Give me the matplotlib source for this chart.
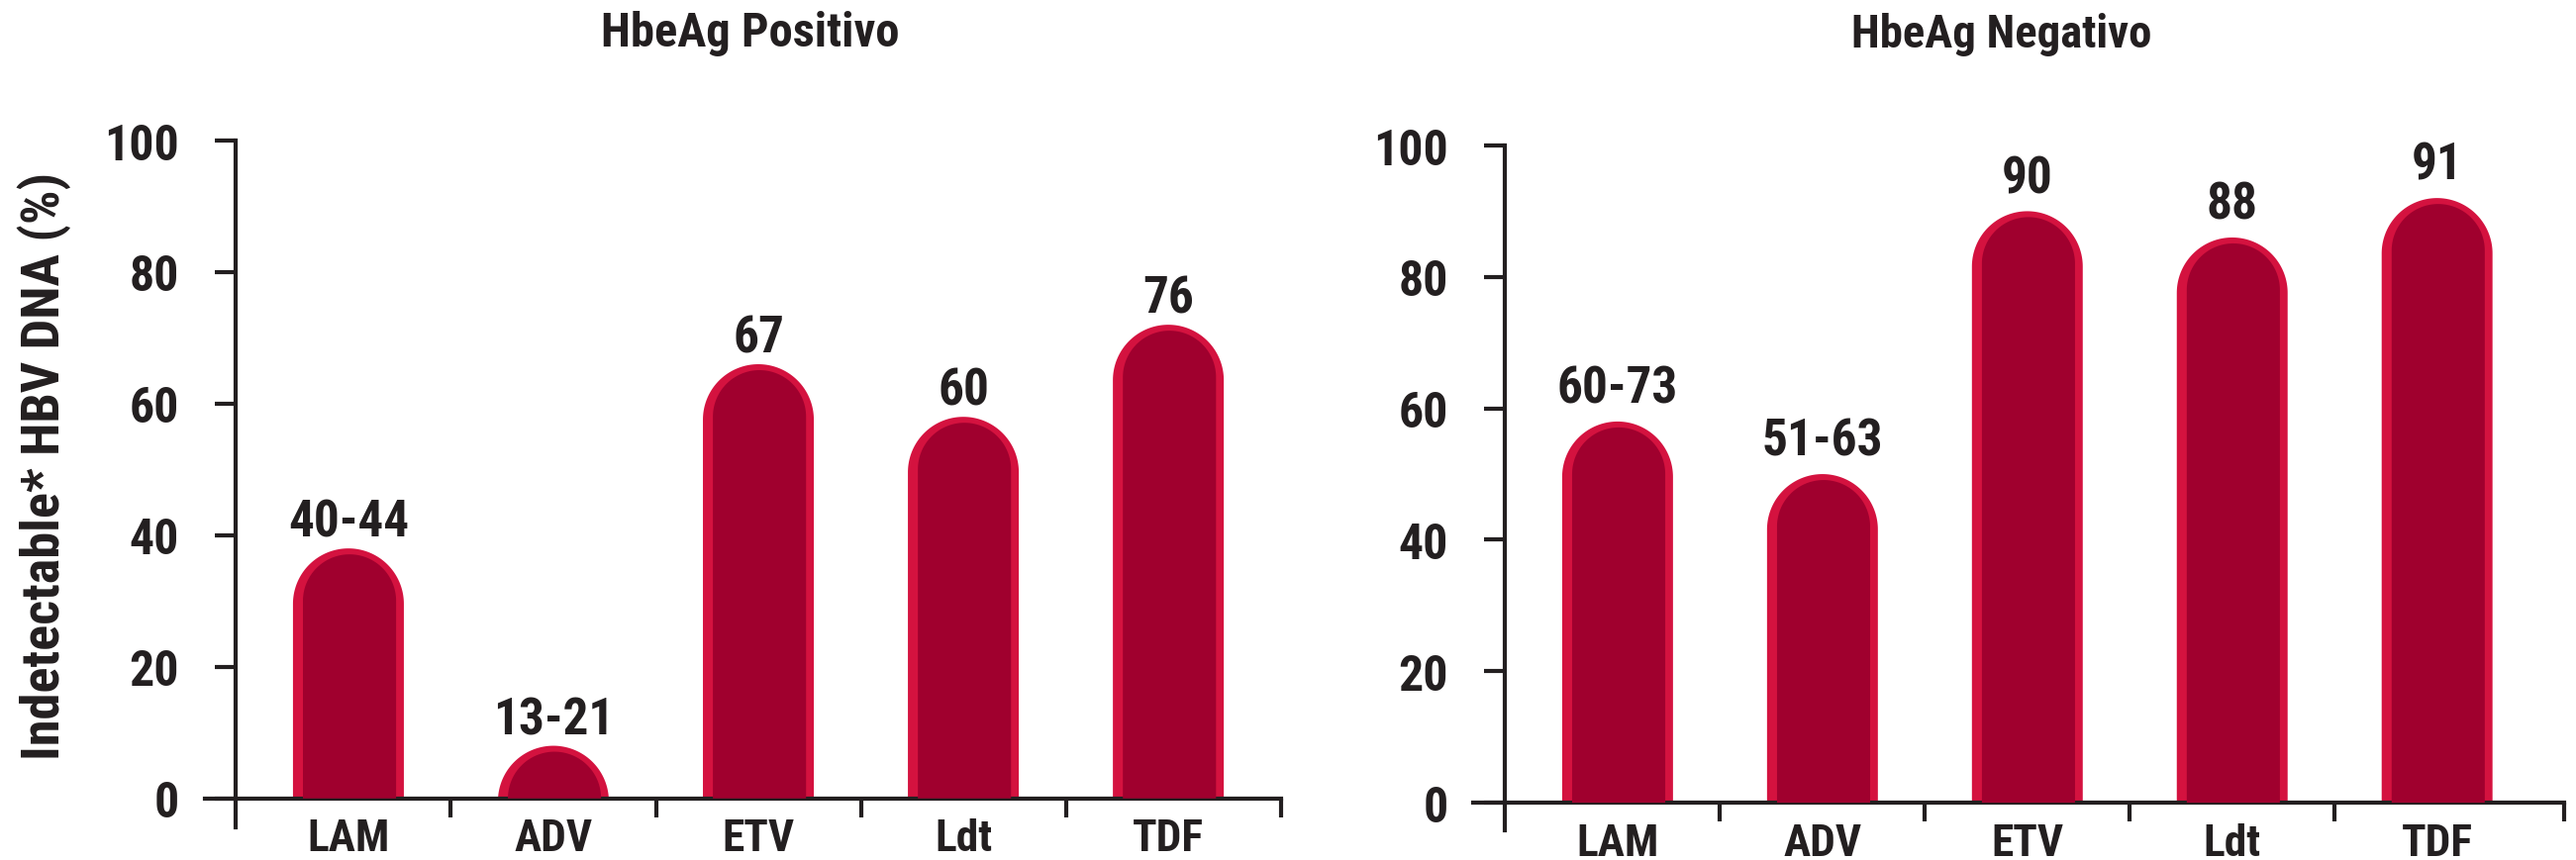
import os
import numpy as np
import matplotlib
matplotlib.use('Agg')
import matplotlib.pyplot as plt
from matplotlib import font_manager
from matplotlib.font_manager import FontProperties
from matplotlib.textpath import TextPath

W, H = 2602, 870
DPI = 100

categories = ['LAM', 'ADV', 'ETV', 'Ldt', 'TDF']
pos_heights = [38, 8, 66, 58, 72]
pos_labels = ['40-44', '13-21', '67', '60', '76']
neg_heights = [58, 50, 90, 86, 92]
neg_labels = ['60-73', '51-63', '90', '88', '91']
yticks = [0, 20, 40, 60, 80, 100]

DARK = '#a0002e'
LIGHT = '#d4123f'
INK = '#231f20'


def find_font():
    # prefer a condensed bold face, the reference uses one
    prefs = ['robotocondensed', 'opensanscondensed', 'opensans_condensed',
             'notosanscondensed', 'notosans-condensed', 'dejavusanscondensed',
             'liberationsansnarrow']
    files = [f.fname for f in font_manager.fontManager.ttflist]
    for p in prefs:
        for fn in files:
            b = os.path.basename(fn).lower().replace(' ', '')
            if p in b and 'bold' in b and not any(k in b for k in ['italic', 'oblique', 'semi', 'extra', 'light']):
                return FontProperties(fname=fn)
    return FontProperties(family='Liberation Sans', weight='bold')


FP = find_font()


def fit(s, target_w, target_cap):
    # font size (pt) that best matches a width and a cap height in pixels
    w100 = TextPath((0, 0), s, size=100, prop=FP).get_extents().width
    h100 = TextPath((0, 0), 'H', size=100, prop=FP).get_extents().height
    k = DPI / 72 / 100
    size_w = target_w / (w100 * k)
    size_h = target_cap / (h100 * k)
    return np.sqrt(size_w * size_h)


def fprop(size):
    fp = FP.copy()
    fp.set_size(size)
    return fp


def px_axes(fig, left, right, top, bottom):
    return fig.add_axes([left / W, 1 - bottom / H, (right - left) / W, (bottom - top) / H])


def capsule(ax, xc, w, top, color, z):
    p0 = ax.transData.transform((0, 0))
    p1 = ax.transData.transform((1, 1))
    sx, sy = p1 - p0
    ry = (w / 2) * sx / sy
    base = top - ry
    t = np.linspace(0, np.pi, 120)
    xs = np.concatenate([[xc + w / 2], xc + (w / 2) * np.cos(t), [xc - w / 2]])
    ys = np.concatenate([[0], base + ry * np.sin(t), [0]])
    ys = np.maximum(ys, 0)
    ax.fill(xs, ys, color=color, lw=0, zorder=z)
    return sx, sy


tick_size = fit('100', 72, 34)
cat_size = fit('LAM', 74, 34)
lab_size = fit('40-44', 117, 37)


def panel(ax, heights, labels, spine_x, end_x, label_off):
    w = 0.541
    for i, h in enumerate(heights):
        sx, sy = capsule(ax, i, w, h, LIGHT, 2)
        top_in = h - 6 / sy
        capsule(ax, i + 0.01 * w, w * 0.84, top_in, DARK, 3)
        ax.annotate(labels[i], (i, h), xytext=(0, label_off), textcoords='offset points',
                    ha='center', va='center', color=INK, fontproperties=fprop(lab_size))
    for s in ['top', 'right']:
        ax.spines[s].set_visible(False)
    ax.spines['left'].set_position(('data', spine_x))
    ax.spines['left'].set_bounds(ax.get_ylim()[0], 100)
    ax.spines['bottom'].set_position(('data', 0))
    for s in ['left', 'bottom']:
        ax.spines[s].set_linewidth(3)
        ax.spines[s].set_color(INK)
    ax.set_yticks(yticks)
    ax.set_xticks(range(len(categories)))
    ax.set_xticklabels(categories)
    ax.set_xticks(list(np.arange(0.5, len(categories) - 1)) + [end_x], minor=True)
    ax.tick_params(axis='y', length=15, width=3, color=INK, pad=26)
    ax.tick_params(axis='x', which='major', length=0, pad=14)
    ax.tick_params(axis='x', which='minor', length=14, width=3, color=INK)
    for tl in ax.get_yticklabels():
        tl.set_fontproperties(fprop(tick_size))
        tl.set_color(INK)
    for tl in ax.get_xticklabels():
        tl.set_fontproperties(fprop(cat_size))
        tl.set_color(INK)
    ax.patch.set_alpha(0)


fig = plt.figure(figsize=(W / DPI, H / DPI), dpi=DPI)

ax1 = px_axes(fig, 207, 1294, 143, 837)
ax1.set_xlim(-0.7, 4.55)
ax1.set_ylim(-4.4, 100)
panel(ax1, pos_heights, pos_labels, -0.55, 4.55, 19)

ax2 = px_axes(fig, 1488, 2590, 148, 840)
ax2.set_xlim(-0.705, 4.62)
ax2.set_ylim(-4.2, 100)
panel(ax2, neg_heights, neg_labels, -0.55, 4.62, 24)

fig.text(758 / W, 1 - 34 / H, 'HbeAg Positivo', ha='center', va='center',
         color=INK, fontproperties=fprop(fit('HbeAg Positivo', 293, 35)))
fig.text(2022 / W, 1 - 35 / H, 'HbeAg Negativo', ha='center', va='center',
         color=INK, fontproperties=fprop(fit('HbeAg Negativo', 269, 37)))
ylab = 'Indetectable* HBV DNA (%)'
fig.text(45 / W, 1 - 471 / H, ylab, rotation=90, ha='center', va='center',
         color=INK, fontproperties=fprop(fit(ylab, 568, 40)))

fig.savefig('out.png', dpi=DPI)
